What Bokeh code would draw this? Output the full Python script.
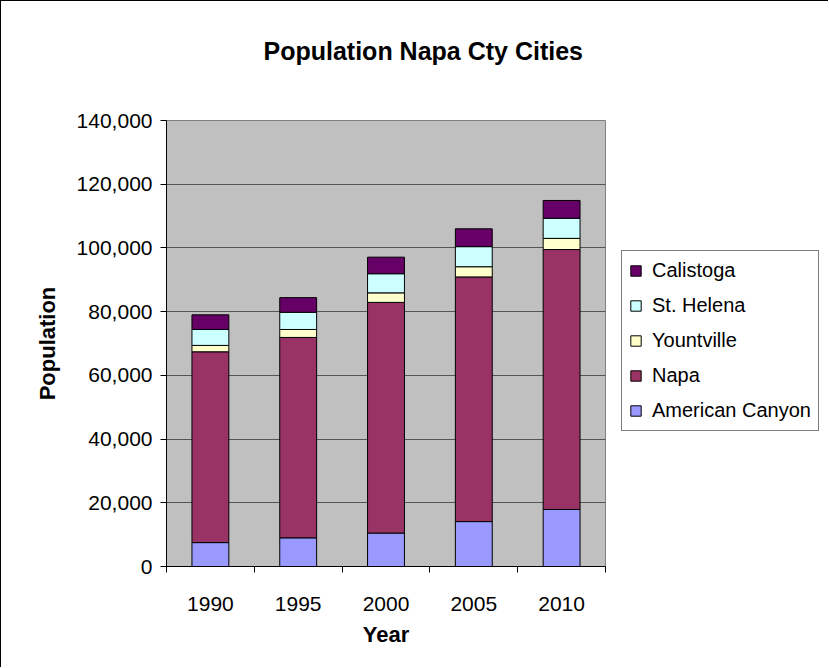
from bokeh.plotting import figure
from bokeh.layouts import row
from bokeh.models import (ColumnDataSource, Range1d, LinearAxis,
                          FixedTicker, NumeralTickFormatter, Legend, LegendItem)
from bokeh.embed import file_html
from bokeh.resources import INLINE

# ---- data ----
years = ["1990", "1995", "2000", "2005", "2010"]
american_canyon = [7500, 9000, 10500, 14100, 17900]
napa = [59900, 62900, 72400, 76800, 81600]
yountville = [2000, 2500, 3000, 3200, 3500]
st_helena = [5000, 5400, 6000, 6300, 6300]
calistoga = [4600, 4600, 5200, 5600, 5600]
series_names = ["American Canyon", "Napa", "Yountville", "St. Helena", "Calistoga"]
series_colors = ["#9999FF", "#993366", "#FFFFCC", "#CCFFFF", "#660066"]
y_ticks = [0, 20000, 40000, 60000, 80000, 100000, 120000, 140000]

FONT = "Liberation Sans"

n = len(years)
slot_centers = [i + 0.5 for i in range(n)]
slot_edges = list(range(n + 1))

source = ColumnDataSource(data={
    "x": slot_centers,
    "American Canyon": american_canyon,
    "Napa": napa,
    "Yountville": yountville,
    "St. Helena": st_helena,
    "Calistoga": calistoga,
})

p = figure(x_range=Range1d(0, n), y_range=Range1d(0, y_ticks[-1]),
           width=616, height=667, output_backend="svg", toolbar_location=None,
           x_axis_location=None,
           min_border_left=165, min_border_right=12, min_border_top=119, min_border_bottom=102)
p.styles = {"border-left": "1px solid #000000", "border-top": "1px solid #000000"}

p.background_fill_color = "#C0C0C0"
p.border_fill_color = "white"
p.outline_line_color = "#808080"

# y axis
ya = p.yaxis[0]
ya.ticker = FixedTicker(ticks=y_ticks)
ya.formatter = NumeralTickFormatter(format="0,0")
ya.major_label_text_font = FONT
ya.major_label_text_font_size = "21px"
ya.major_label_text_color = "black"
ya.major_tick_in = 0
ya.major_tick_out = 6
ya.minor_tick_line_color = None
ya.axis_line_color = "black"
ya.major_tick_line_color = "black"
ya.major_label_standoff = 8
ya.axis_label = "Population"
ya.axis_label_text_font = FONT
ya.axis_label_text_font_size = "22px"
ya.axis_label_text_font_style = "bold"
ya.axis_label_text_color = "black"
ya.axis_label_standoff = 14

p.ygrid.grid_line_color = "#555555"
p.xgrid.visible = False

# x axis: year labels at slot centres, tick marks at slot boundaries (minor ticks)
year_axis = LinearAxis(ticker=FixedTicker(ticks=slot_centers, minor_ticks=slot_edges),
                       major_label_overrides={c: y for c, y in zip(slot_centers, years)},
                       axis_line_color="black", major_tick_line_color=None,
                       major_tick_in=0, major_tick_out=0,
                       minor_tick_line_color="black", minor_tick_in=0, minor_tick_out=6,
                       major_label_standoff=24,
                       major_label_text_font=FONT, major_label_text_font_size="21px",
                       major_label_text_color="black",
                       axis_label="Year", axis_label_text_font=FONT,
                       axis_label_text_font_size="22px", axis_label_text_font_style="bold",
                       axis_label_text_color="black", axis_label_standoff=8)
p.add_layout(year_axis, "below")

p.vbar_stack(series_names, x="x", width=0.42, source=source,
             fill_color=series_colors, line_color="black", line_width=1)

p.title.text = "Population Napa Cty Cities\n"
p.title.text_font = FONT
p.title.text_font_size = "25px"
p.title.text_font_style = "bold"
p.title.text_color = "black"
p.title.align = "left"
p.title.vertical_align = "top"
p.title.offset = 97
p.title.standoff = 52

# ---- legend panel (separate figure to the right of the plot area) ----
# its x range lies away from the bars, so its stacked renderers only feed the legend swatches
lf = figure(x_range=Range1d(-2, -1), y_range=Range1d(0, y_ticks[-1]), width=212, height=667,
            output_backend="svg", toolbar_location=None, title=None,
            x_axis_location=None, y_axis_location=None, min_border=0)
lf.styles = {"border-top": "1px solid #000000"}
lf.outline_line_color = None
lf.background_fill_color = "white"
lf.border_fill_color = "white"
lf.grid.visible = False

legend_renderers = lf.vbar_stack(series_names, x="x", width=0.42, source=source,
                                 fill_color=series_colors, line_color="black", line_width=1)
items = [LegendItem(label=nm, renderers=[r])
         for nm, r in zip(series_names, legend_renderers)][::-1]
legend = Legend(items=items, location=(5, 135),
                label_text_font=FONT, label_text_font_size="20px", label_text_color="black",
                glyph_width=13, glyph_height=13, label_standoff=10,
                label_height=25, spacing=10, padding=7, margin=0,
                border_line_color="black", border_line_width=1,
                background_fill_color="white", background_fill_alpha=1.0)
lf.add_layout(legend)

layout = row(p, lf)

open("out.html", "w").write(file_html(layout, INLINE))
